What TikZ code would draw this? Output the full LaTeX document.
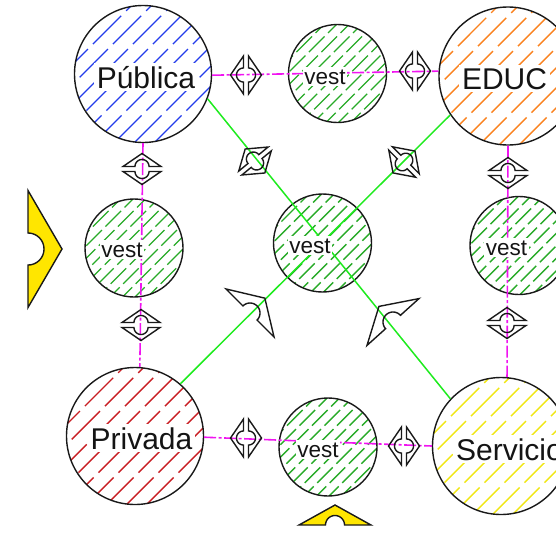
\documentclass[tikz,border=0pt]{standalone}
\usepackage{fontspec}
\setmainfont{Liberation Sans}
\definecolor{outl}{RGB}{25,25,25}
\definecolor{txtc}{RGB}{20,20,20}
\definecolor{hblue}{RGB}{35,60,235}
\definecolor{horange}{RGB}{250,130,30}
\definecolor{hgreen}{RGB}{40,170,40}
\definecolor{hred}{RGB}{200,30,35}
\definecolor{hyellow}{RGB}{240,230,20}
\definecolor{magl}{RGB}{240,20,240}
\definecolor{grnl}{RGB}{30,235,30}
\definecolor{yfill}{RGB}{255,230,0}
\newcommand\npiece[4][piece]{%
  \draw[#1] (0,{-(#2)/2}) -- (#3,0) -- (0,{(#2)/2}) -- plot[domain=-90:90,samples=25] ({(#4)*cos(\x)},{-(#4)*sin(\x)}) -- cycle;}
\newcommand\npair[3]{%
  \begin{scope}[shift={(#1,#2)},rotate=#3]
    \begin{scope}[shift={(2.5,0)}]\npiece{38}{13}{7}\end{scope}
    \begin{scope}[shift={(-2.5,0)},xscale=-1]\npiece{38}{13}{7}\end{scope}
  \end{scope}}
\tikzset{
  circ/.style={circle, draw=outl, line width=1.4pt, inner sep=0pt},
  bigc/.style={circ, minimum size=137pt},
  vestc/.style={circ, minimum size=98pt},
  hatch/.style n args={4}{path picture={%
    \begin{scope}[shift={(path picture bounding box.center)}]
      \foreach \k in {-8,...,8}
        \draw[draw=#1, line width=1.4pt, dash pattern=#4] ({\k*(#2)-(#3)},{#3}) -- ++({2*(#3)},{-2*(#3)});
    \end{scope}}},
  bighatch/.style={hatch={#1}{20}{103}{on 40pt off 7pt}},
  vesthatch/.style={hatch={hgreen}{12.5}{74}{on 22pt off 5pt}},
  piece/.style={draw=outl, line width=1.4pt, line join=miter},
  ypiece/.style={draw=outl, fill=yfill, line width=1.4pt},
  magline/.style={draw=magl, line width=1.6pt, dash pattern=on 12pt off 2.5pt on 3pt off 2.5pt},
  grnline/.style={draw=grnl, line width=1.5pt},
  blbl/.style={anchor=base, fill=white, inner sep=3pt, text=txtc, font=\fontsize{30}{36}\selectfont},
  vlbl/.style={anchor=base, fill=white, inner xsep=1.5pt, inner ysep=2pt, text=txtc, font=\fontsize{22.5}{27}\selectfont}
}
\begin{document}
\begin{tikzpicture}[x=1pt,y=-1pt]
\useasboundingbox (0,0) rectangle (556,533);
\clip (0,0) rectangle (556,533);
% circles
\node[bigc, bighatch=hblue] (pub) at (143,74) {};
\node[bigc, minimum size=138pt, bighatch=horange] (educ) at (508,76) {};
\node[bigc, bighatch=hred] (priv) at (135,436) {};
\node[bigc, bighatch=hyellow] (serv) at (501,446) {};
\node[vestc, vesthatch] (v1) at (337.5,73.5) {};
\node[vestc, vesthatch] (v2) at (134,248) {};
\node[vestc, vesthatch] (v3) at (322.5,243) {};
\node[vestc, vesthatch] (v4) at (519,245.5) {};
\node[vestc, vesthatch] (v5) at (328,447) {};
% connectors
\draw[magline] (pub.-1) -- (educ.176);
\draw[magline] (pub.south) -- (priv.86);
\draw[magline] (educ.south) -- (serv.85);
\draw[magline] (priv.-1) -- (serv.180);
\draw[grnline] (pub.-21) -- (serv.137);
\draw[grnline] (priv.49) -- (educ.214);
% notched arrow pairs
\npair{246}{75}{0}
\npair{415}{71}{0}
\npair{246}{438}{0}
\npair{404}{446}{0}
\npair{142}{169}{90}
\npair{141}{325}{90}
\npair{508}{173}{90}
\npair{507}{323}{90}
\npair{255}{161}{-50.7}
\npair{404}{162}{44.9}
% single arrows
\begin{scope}[shift={(250,313)},rotate=45]\npiece{68}{21}{10}\end{scope}
\begin{scope}[shift={(393,322)},rotate=132]\npiece{70}{21}{10}\end{scope}
% yellow arrows
\begin{scope}[shift={(28,249)}]\npiece[ypiece]{117}{34}{16}\end{scope}
\begin{scope}[shift={(335,525)},rotate=90]\npiece[ypiece]{72}{20}{9.5}\end{scope}
% labels
\node[blbl] (pubt) at (146,88) {Pública};
\node[blbl] (educt) at (504.5,89) {EDUC};
\node[blbl] (privt) at (141.5,449) {Privada};
\node[blbl] (servt) at (509.5,460) {Servicio};
\node[vlbl] (v1t) at (325,84) {vest};
\node[vlbl] (v2t) at (122,257) {vest};
\node[vlbl] (v3t) at (310,253) {vest};
\node[vlbl] (v4t) at (506.5,255) {vest};
\node[vlbl] (v5t) at (318,457) {vest};
\end{tikzpicture}
\end{document}
